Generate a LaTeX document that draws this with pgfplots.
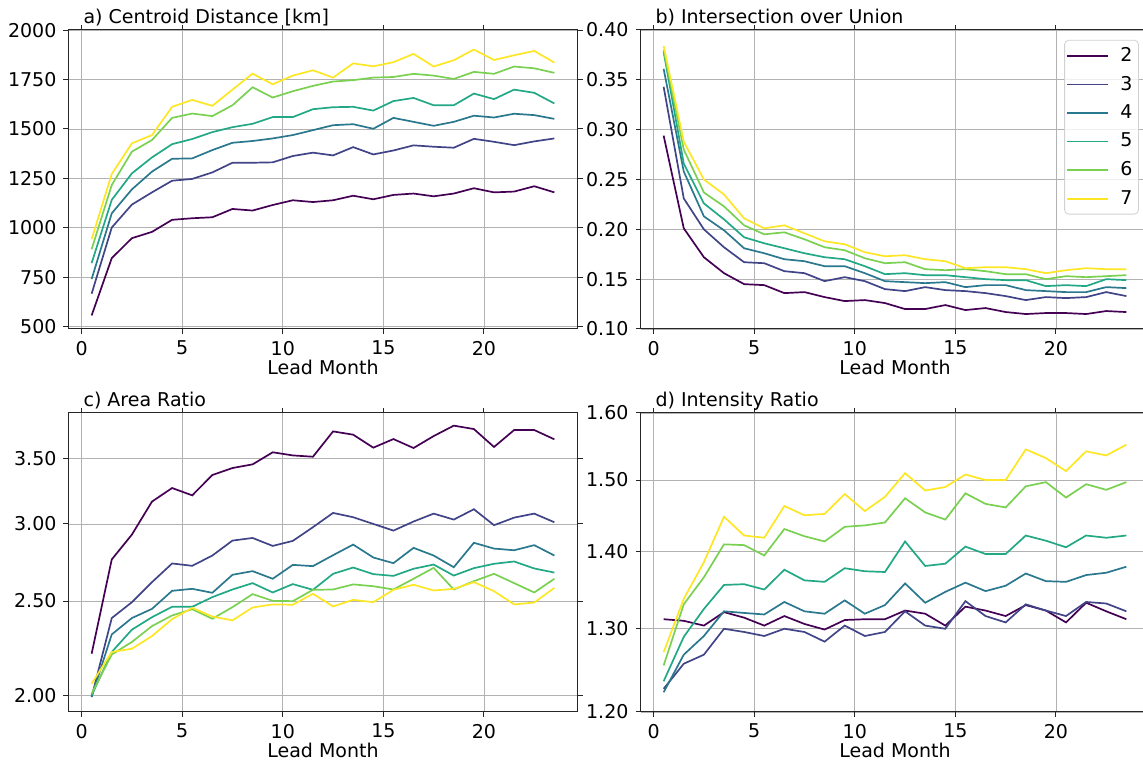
\documentclass[border=0pt]{standalone}
\usepackage{fontspec}
\setmainfont{DejaVu Sans}
\usepackage{pgfplots}
\usepackage{pgfplotstable}
\pgfplotsset{compat=1.18}

% viridis, 6 samples
\definecolor{v2}{HTML}{440154}
\definecolor{v3}{HTML}{414487}
\definecolor{v4}{HTML}{2A788E}
\definecolor{v5}{HTML}{22A884}
\definecolor{v6}{HTML}{7AD151}
\definecolor{v7}{HTML}{FDE725}

\pgfplotstableread{
x s2 s3 s4 s5 s6 s7
0.5 556 666 740 821 891 942
1.5 846 1001 1073 1141 1216 1272
2.5 947 1117 1194 1275 1385 1427
3.5 979 1179 1284 1356 1444 1469
4.5 1040 1238 1349 1423 1556 1612
5.5 1048 1247 1351 1449 1578 1647
6.5 1053 1280 1393 1484 1565 1617
7.5 1095 1329 1430 1509 1620 1699
8.5 1087 1329 1439 1526 1711 1780
9.5 1115 1331 1452 1560 1659 1726
10.5 1139 1363 1469 1560 1691 1770
11.5 1130 1380 1494 1600 1718 1797
12.5 1139 1366 1519 1610 1740 1760
13.5 1162 1408 1524 1612 1747 1832
14.5 1144 1371 1501 1593 1760 1817
15.5 1166 1391 1556 1641 1763 1838
16.5 1173 1417 1536 1657 1779 1880
17.5 1159 1410 1516 1620 1770 1816
18.5 1173 1405 1536 1620 1753 1848
19.5 1200 1450 1567 1679 1789 1902
20.5 1179 1435 1558 1651 1779 1849
21.5 1183 1418 1577 1699 1816 1873
22.5 1210 1437 1570 1683 1807 1895
23.5 1179 1452 1551 1629 1784 1836
}\tabA

\pgfplotstableread{
x s2 s3 s4 s5 s6 s7
0.5 0.294 0.343 0.361 0.378 0.380 0.384
1.5 0.201 0.231 0.258 0.266 0.280 0.288
2.5 0.172 0.200 0.213 0.226 0.237 0.250
3.5 0.156 0.182 0.199 0.210 0.223 0.235
4.5 0.145 0.167 0.181 0.192 0.204 0.211
5.5 0.144 0.166 0.176 0.186 0.195 0.201
6.5 0.136 0.158 0.170 0.181 0.197 0.204
7.5 0.137 0.156 0.168 0.176 0.190 0.196
8.5 0.132 0.148 0.163 0.172 0.182 0.188
9.5 0.128 0.152 0.163 0.170 0.179 0.185
10.5 0.129 0.148 0.156 0.163 0.171 0.177
11.5 0.126 0.140 0.148 0.155 0.166 0.173
12.5 0.120 0.138 0.147 0.156 0.167 0.174
13.5 0.120 0.142 0.146 0.154 0.160 0.170
14.5 0.124 0.139 0.147 0.154 0.159 0.168
15.5 0.119 0.138 0.142 0.152 0.160 0.161
16.5 0.121 0.136 0.144 0.150 0.158 0.162
17.5 0.117 0.133 0.144 0.149 0.155 0.162
18.5 0.115 0.129 0.139 0.149 0.155 0.160
19.5 0.116 0.132 0.138 0.143 0.150 0.156
20.5 0.116 0.131 0.137 0.144 0.153 0.159
21.5 0.115 0.132 0.137 0.143 0.152 0.161
22.5 0.118 0.137 0.142 0.150 0.153 0.160
23.5 0.117 0.133 0.141 0.149 0.154 0.160
}\tabB

\pgfplotstableread{
x s2 s3 s4 s5 s6 s7
0.5 2.207 1.992 1.995 2.000 2.008 2.056
1.5 2.758 2.401 2.310 2.216 2.203 2.216
2.5 2.925 2.493 2.401 2.336 2.269 2.233
3.5 3.163 2.614 2.454 2.406 2.356 2.301
4.5 3.266 2.732 2.561 2.466 2.416 2.395
5.5 3.210 2.717 2.573 2.466 2.452 2.460
6.5 3.368 2.784 2.549 2.523 2.397 2.410
7.5 3.424 2.884 2.660 2.569 2.464 2.388
8.5 3.454 2.902 2.683 2.608 2.541 2.462
9.5 3.554 2.848 2.635 2.551 2.501 2.480
10.5 3.528 2.882 2.723 2.602 2.499 2.478
11.5 3.517 2.977 2.715 2.567 2.567 2.543
12.5 3.734 3.079 2.786 2.666 2.569 2.468
13.5 3.705 3.048 2.857 2.706 2.600 2.507
14.5 3.593 3.000 2.771 2.664 2.589 2.493
15.5 3.667 2.953 2.734 2.653 2.569 2.567
16.5 3.590 3.017 2.835 2.698 2.635 2.598
17.5 3.693 3.074 2.784 2.725 2.704 2.563
18.5 3.785 3.031 2.708 2.655 2.569 2.573
19.5 3.755 3.106 2.869 2.702 2.620 2.614
20.5 3.599 2.991 2.830 2.730 2.666 2.559
21.5 3.746 3.045 2.819 2.745 2.608 2.480
22.5 3.746 3.074 2.853 2.700 2.551 2.491
23.5 3.665 3.012 2.784 2.674 2.635 2.579
}\tabC

\pgfplotstableread{
x s2 s3 s4 s5 s6 s7
0.5 1.312 1.227 1.223 1.236 1.255 1.271
1.5 1.310 1.257 1.268 1.290 1.331 1.338
2.5 1.304 1.268 1.291 1.325 1.366 1.386
3.5 1.321 1.300 1.322 1.356 1.410 1.448
4.5 1.314 1.296 1.320 1.357 1.409 1.422
5.5 1.304 1.291 1.318 1.350 1.395 1.419
6.5 1.316 1.300 1.334 1.376 1.431 1.463
7.5 1.306 1.296 1.322 1.362 1.421 1.450
8.5 1.299 1.284 1.319 1.360 1.414 1.452
9.5 1.311 1.304 1.336 1.378 1.434 1.480
10.5 1.312 1.291 1.319 1.374 1.436 1.456
11.5 1.312 1.296 1.330 1.373 1.440 1.476
12.5 1.323 1.322 1.358 1.414 1.474 1.510
13.5 1.319 1.304 1.333 1.381 1.454 1.485
14.5 1.304 1.300 1.347 1.384 1.444 1.490
15.5 1.328 1.335 1.359 1.407 1.481 1.508
16.5 1.323 1.316 1.348 1.397 1.466 1.500
17.5 1.316 1.308 1.355 1.397 1.461 1.500
18.5 1.330 1.331 1.371 1.422 1.491 1.545
19.5 1.323 1.323 1.361 1.415 1.497 1.532
20.5 1.308 1.316 1.360 1.406 1.475 1.513
21.5 1.333 1.334 1.369 1.422 1.494 1.542
22.5 1.322 1.332 1.372 1.419 1.486 1.536
23.5 1.312 1.322 1.380 1.422 1.497 1.552
}\tabD

\newcommand{\lblfont}{\fontsize{9.5}{11}\selectfont}

\pgfplotsset{
  every axis title/.style={at={(0,1)}, anchor=base west, xshift=4pt, yshift=3pt, font=\lblfont},
  panel/.style={
    scale only axis, width=254.5pt, height=149.5pt, anchor=south west,
    xmin=-0.65, xmax=24.65, xtick={0,5,10,15,20},
    grid=major, grid style={color=black!30, line width=0.4pt},
    axis line style={line width=0.5pt, black!85},
    tick align=outside, major tick length=2.5pt,
    tick style={line width=0.5pt, black!85},
    ticklabel style={font=\lblfont},
    /pgf/number format/assume math mode=true,
    /pgf/number format/1000 sep={},
    xlabel={Lead Month},
    xlabel style={font=\lblfont, at={(axis description cs:0.5,0)}, anchor=base, yshift=-23pt},
    every axis plot/.append style={line width=0.85pt, no marks},
    cycle list={{v2},{v3},{v4},{v5},{v6},{v7}},
  }
}

\begin{document}
\begin{tikzpicture}
\useasboundingbox (0,0) rectangle (571.5pt,381.5pt);

% a) centroid distance
\begin{axis}[panel, at={(34.25pt,217pt)},
    title={a) Centroid Distance [km]},
    ymin=487.4, ymax=2001,
    ytick={500,750,1000,1250,1500,1750,2000}]
\pgfplotsinvokeforeach{2,...,7}{\addplot table[x=x,y=s#1]{\tabA};}
\end{axis}

% b) intersection over union
\begin{axis}[panel, at={(320.25pt,217pt)},
    title={b) Intersection over Union},
    ymin=0.1, ymax=0.4,
    ytick={0.10,0.15,0.20,0.25,0.30,0.35,0.40},
    yticklabel style={/pgf/number format/.cd, fixed, fixed zerofill, precision=2},
    legend style={at={(0.979,0.967)}, anchor=north east, draw=black!18,
      rounded corners=2pt, fill=white, fill opacity=0.8, text opacity=1,
      font=\lblfont, inner xsep=1pt, inner ysep=1.5pt, row sep=1.8pt,
      /tikz/every odd column/.append style={column sep=3.5pt}},
    legend cell align=left,
    legend image code/.code={\draw[#1, line width=0.85pt] (0pt,0pt) -- (20.5pt,0pt);}]
\pgfplotsinvokeforeach{2,...,7}{\addplot table[x=x,y=s#1]{\tabB};}
\legend{2,3,4,5,6,7}
\end{axis}

% c) area ratio
\begin{axis}[panel, at={(34.25pt,25.5pt)},
    title={c) Area Ratio},
    ymode=log, ymin=1.923, ymax=3.90,
    ytick={2,2.5,3,3.5}, yticklabels={2.00,2.50,3.00,3.50},
    minor ytick={}]
\pgfplotsinvokeforeach{2,...,7}{\addplot table[x=x,y=s#1]{\tabC};}
\end{axis}

% d) intensity ratio
\begin{axis}[panel, at={(320.25pt,25.5pt)},
    title={d) Intensity Ratio},
    ymode=log, ymin=1.2, ymax=1.6,
    ytick={1.2,1.3,1.4,1.5,1.6}, yticklabels={1.20,1.30,1.40,1.50,1.60},
    minor ytick={}]
\pgfplotsinvokeforeach{2,...,7}{\addplot table[x=x,y=s#1]{\tabD};}
\end{axis}
\end{tikzpicture}
\end{document}
